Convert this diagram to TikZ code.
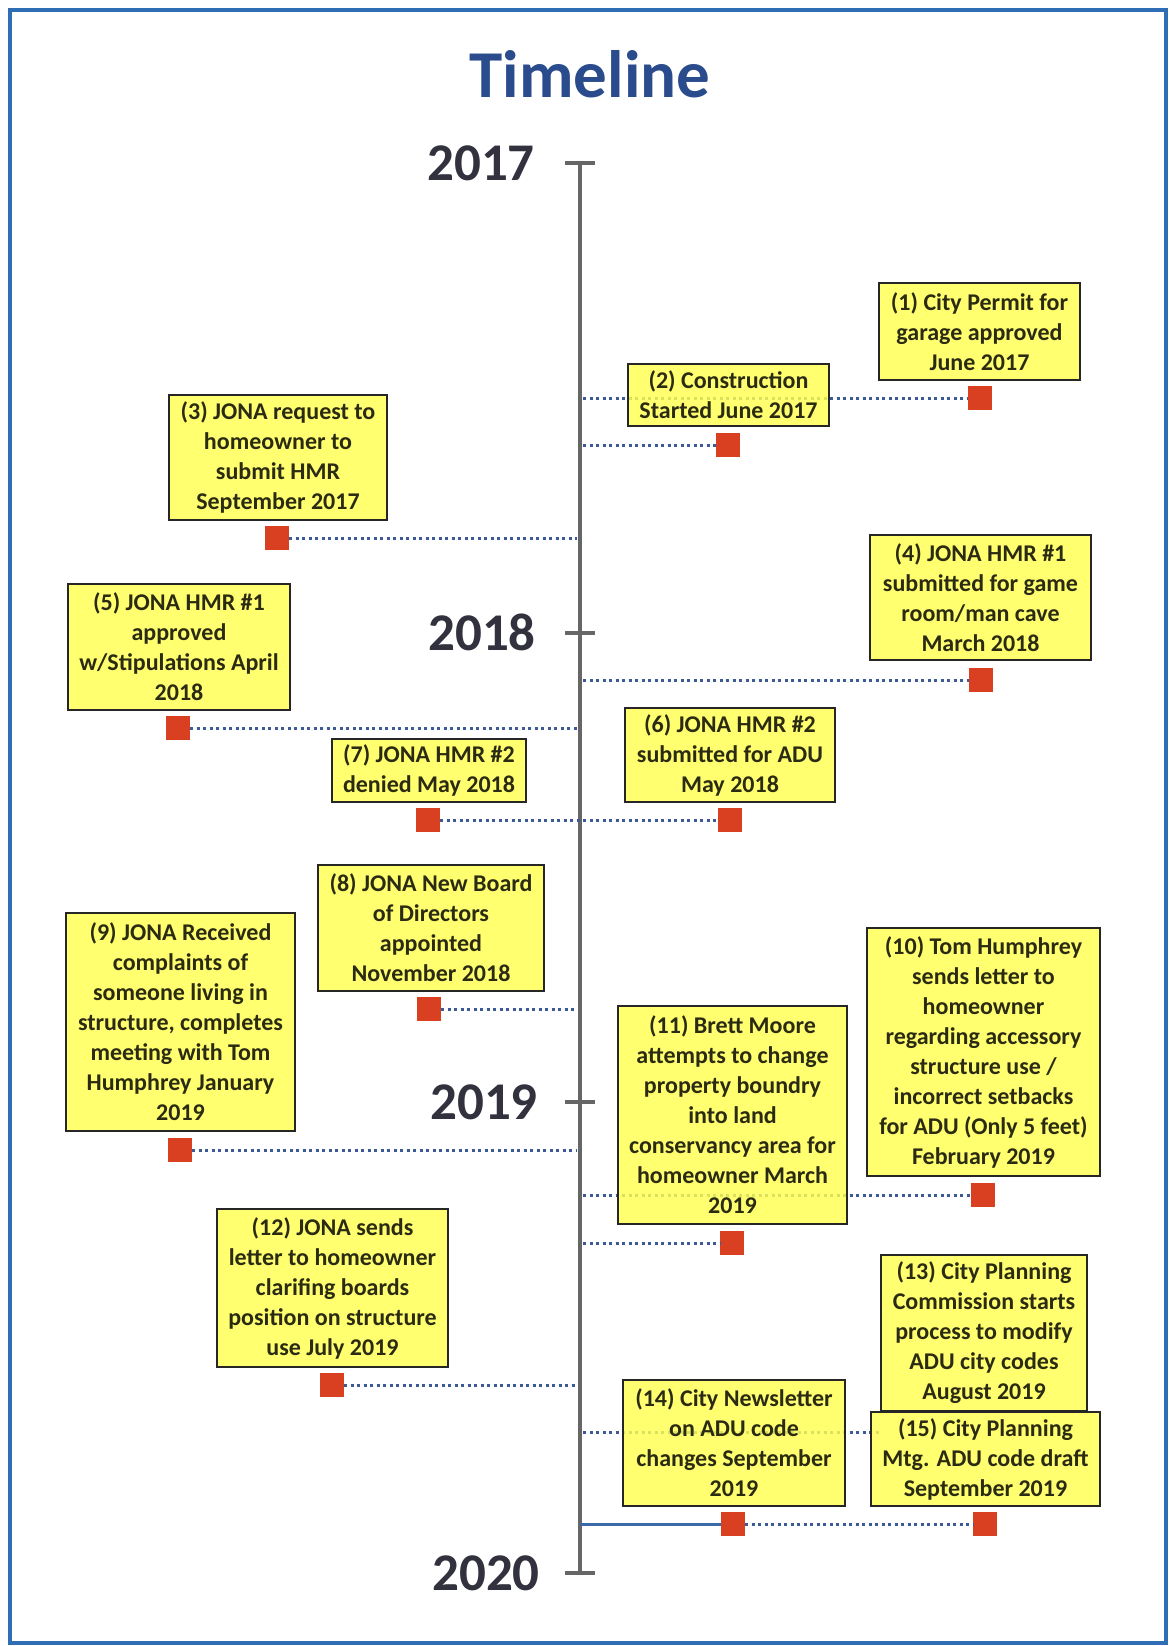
\documentclass[tikz,border=0pt]{standalone}
\usepackage{fontspec}
\setmainfont{Carlito}
\definecolor{boxyellow}{RGB}{255,255,80}
\definecolor{boxtext}{RGB}{43,43,20}
\definecolor{sqred}{RGB}{217,64,33}
\definecolor{dotblue}{RGB}{60,90,150}
\definecolor{lineblue}{RGB}{60,106,168}
\definecolor{axisgray}{RGB}{102,102,102}
\definecolor{titleblue}{RGB}{43,76,140}
\definecolor{yeargray}{RGB}{50,50,62}
\definecolor{framebl}{RGB}{47,110,181}
\tikzset{
  evbox/.style={draw=black!85, line width=2pt, fill=boxyellow, fill opacity=0.82, text opacity=1,
    text=boxtext, font=\bfseries\fontsize{24}{30}\selectfont, align=center, inner sep=0pt},
  sq/.style={fill=sqred, draw=none, minimum size=24pt, inner sep=0pt},
  dotline/.style={dotblue, line width=3pt, dash pattern=on 3pt off 3.5pt},
  axisline/.style={axisgray, line width=4.5pt},
  yearlbl/.style={anchor=base east, text=yeargray, font=\bfseries\fontsize{53}{60}\selectfont, inner sep=0pt},
}
\begin{document}
\begin{tikzpicture}[x=1pt,y=-1pt]
\useasboundingbox[fill=white] (0,0) rectangle (1171,1646);
% frame
\draw[framebl, line width=4pt] (10,10) rectangle (1166,1643);
% title
\node[anchor=base, text=titleblue, font=\bfseries\fontsize{67}{70}\selectfont, inner sep=0pt] (title) at (590,97) {Timeline};
% axis
\coordinate (t17) at (580,163);
\coordinate (t18) at (580,633);
\coordinate (t19) at (580,1102);
\coordinate (t20) at (580,1573);
\draw[axisline] (t17) -- (t20);
\foreach \t in {t17,t18,t19,t20}{\draw[axisline] ([xshift=-15pt]\t) -- ([xshift=15pt]\t);}
\node[yearlbl] (y17) at (535,180) {2017};
\node[yearlbl] (y18) at (536,650) {2018};
\node[yearlbl] (y19) at (538,1119) {2019};
\node[yearlbl] (y20) at (540,1590) {2020};
% squares
\node[sq] (s1) at (980,398) {};
\node[sq] (s2) at (728,445) {};
\node[sq] (s3) at (277,538) {};
\node[sq] (s4) at (981,680) {};
\node[sq] (s5) at (178,728) {};
\node[sq] (s6) at (730,820) {};
\node[sq] (s7) at (428,820) {};
\node[sq] (s8) at (429,1009) {};
\node[sq] (s9) at (180,1150) {};
\node[sq] (s10) at (983,1195) {};
\node[sq] (s11) at (732,1243) {};
\node[sq] (s12) at (332,1385) {};
\node[sq] (s14) at (733,1524) {};
\node[sq] (s15) at (985,1524) {};
% axis anchor points
\coordinate (a1) at (583,398);
\coordinate (a2) at (583,445);
\coordinate (a3) at (577,538);
\coordinate (a4) at (583,680);
\coordinate (a5) at (577,728);
\coordinate (a8) at (577,1009);
\coordinate (a9) at (577,1150);
\coordinate (a10) at (583,1195);
\coordinate (a11) at (583,1243);
\coordinate (a12) at (577,1385);
\coordinate (a13) at (583,1432);
\coordinate (e13) at (880,1432);
\coordinate (a14) at (580,1524);
% connectors
\draw[dotline] (a1) -- (s1.west);
\draw[dotline] (a2) -- (s2.west);
\draw[dotline] (s3.east) -- (a3);
\draw[dotline] (a4) -- (s4.west);
\draw[dotline] (s5.east) -- (a5);
\draw[dotline] (s7.east) -- (s6.west);
\draw[dotline] (s8.east) -- (a8);
\draw[dotline] (s9.east) -- (a9);
\draw[dotline] (a10) -- (s10.west);
\draw[dotline] (a11) -- (s11.west);
\draw[dotline] (s12.east) -- (a12);
\draw[dotline] (a13) -- (e13);
\draw[lineblue, line width=3pt] (a14) -- (s14.west);
\draw[dotline] (s14.east) -- (s15.west);
% boxes
\node[evbox, minimum width=201pt, minimum height=97pt] (b1) at (979.5,331.5) {(1) City Permit for\\garage approved\\June 2017};
\node[evbox, minimum width=201pt, minimum height=62pt] (b2) at (728.5,395) {(2) Construction\\Started June 2017};
\node[evbox, minimum width=218pt, minimum height=125pt] (b3) at (278,457.5) {(3) JONA request to\\homeowner to\\submit HMR\\September 2017};
\node[evbox, minimum width=221pt, minimum height=125pt] (b4) at (980.5,597.5) {(4) JONA HMR \#1\\submitted for game\\room/man cave\\March 2018};
\node[evbox, minimum width=222pt, minimum height=126pt] (b5) at (179,647) {(5) JONA HMR \#1\\approved\\w/Stipulations April\\2018};
\node[evbox, minimum width=210pt, minimum height=94pt] (b6) at (730,755) {(6) JONA HMR \#2\\submitted for ADU\\May 2018};
\node[evbox, minimum width=194pt, minimum height=63pt] (b7) at (429,770.5) {(7) JONA HMR \#2\\denied May 2018};
\node[evbox, minimum width=226pt, minimum height=126pt] (b8) at (431,928) {(8) JONA New Board\\of Directors\\appointed\\November 2018};
\node[evbox, minimum width=229pt, minimum height=218pt] (b9) at (180.5,1022) {(9) JONA Received\\complaints of\\someone living in\\structure, completes\\meeting with Tom\\Humphrey January\\2019};
\node[evbox, minimum width=233pt, minimum height=248pt] (b10) at (983.5,1052) {(10) Tom Humphrey\\sends letter to\\homeowner\\regarding accessory\\structure use /\\incorrect setbacks\\for ADU (Only 5 feet)\\February 2019};
\node[evbox, minimum width=229pt, minimum height=218pt] (b11) at (732.5,1115) {(11) Brett Moore\\attempts to change\\property boundry\\into land\\conservancy area for\\homeowner March\\2019};
\node[evbox, minimum width=231pt, minimum height=158pt] (b12) at (332.5,1288) {(12) JONA sends\\letter to homeowner\\clarifing boards\\position on structure\\use July 2019};
\node[evbox, minimum width=206pt, minimum height=156pt] (b13) at (984,1333) {(13) City Planning\\Commission starts\\process to modify\\ADU city codes\\August 2019};
\node[evbox, minimum width=222pt, minimum height=126pt] (b14) at (734,1443) {(14) City Newsletter\\on ADU code\\changes September\\2019};
\node[evbox, minimum width=229pt, minimum height=94pt] (b15) at (985.5,1459) {(15) City Planning\\Mtg. ADU code draft\\September 2019};
\end{tikzpicture}
\end{document}
